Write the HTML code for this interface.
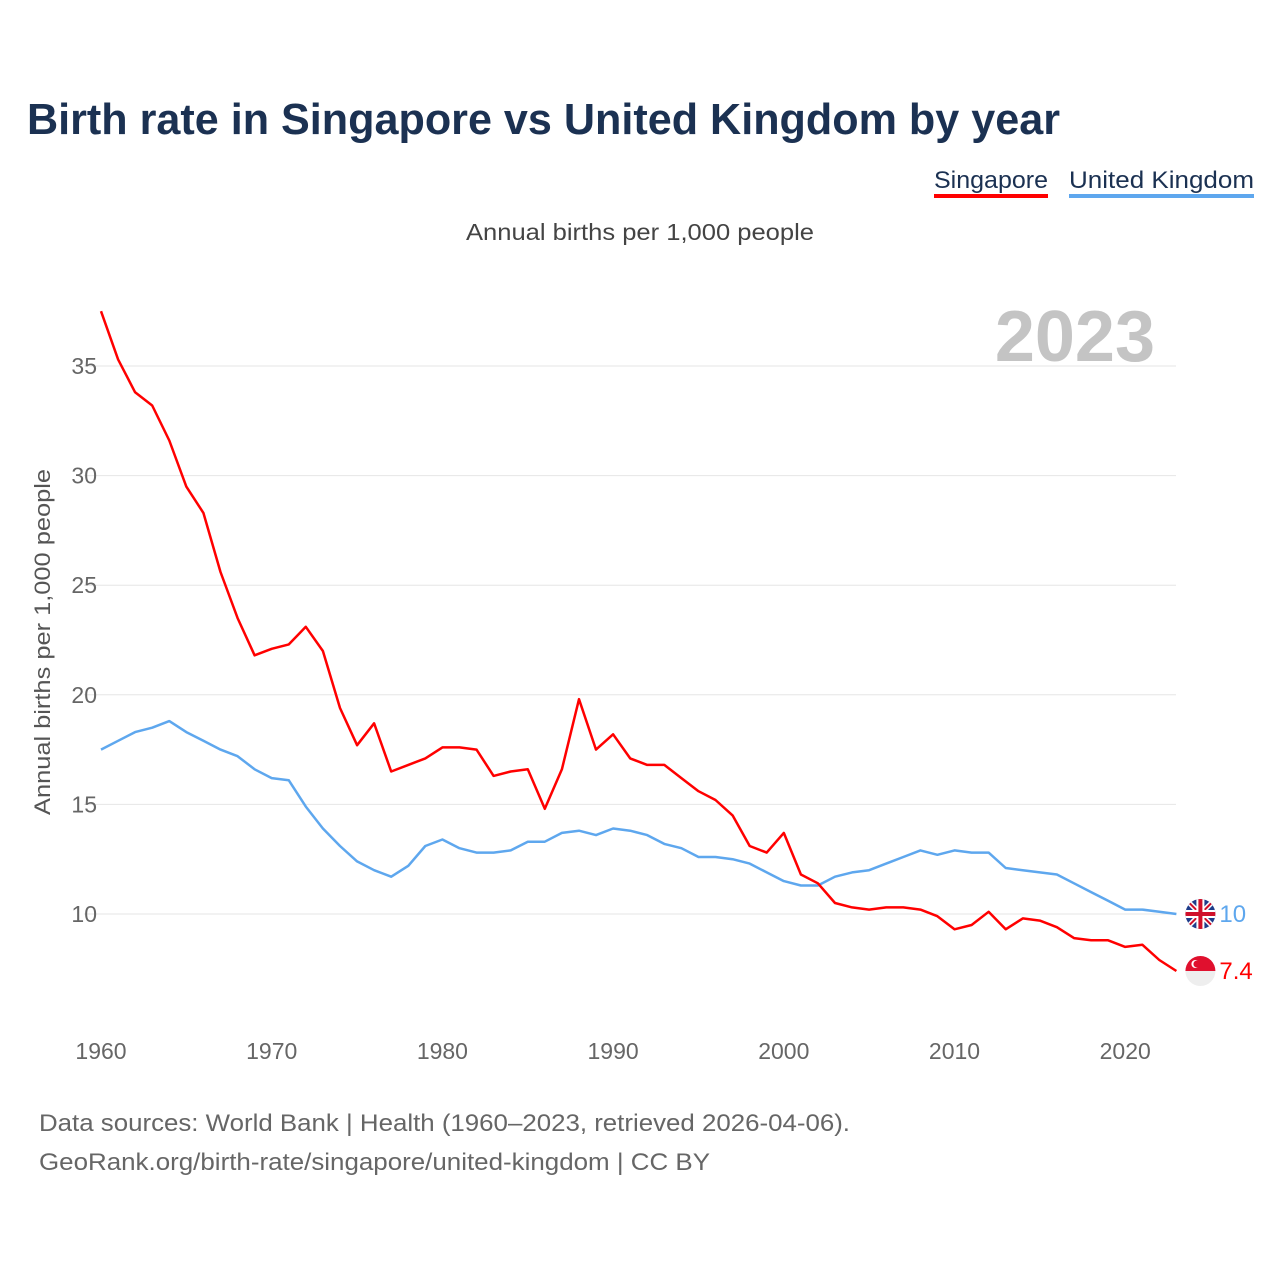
<!DOCTYPE html>
<html><head><meta charset="utf-8">
<style>
body{margin:0;background:#fff;font-family:"Liberation Sans",sans-serif;}
#wrap{position:relative;width:1280px;height:1280px;overflow:hidden;}
</style></head>
<body>
<div id="wrap">
<svg id="chart" width="1280" height="1280" viewBox="0 0 1280 1280">
<text x="27" y="134" font-size="44" font-weight="bold" fill="#1b3152" textLength="1033" lengthAdjust="spacingAndGlyphs">Birth rate in Singapore vs United Kingdom by year</text>
<g>
<text x="934" y="188" font-size="24" fill="#1b3152" textLength="114" lengthAdjust="spacingAndGlyphs">Singapore</text>
<rect x="934" y="194" width="114" height="4" fill="#ff0000"/>
</g>
<g>
<text x="1069" y="188" font-size="24" fill="#1b3152" textLength="185" lengthAdjust="spacingAndGlyphs">United Kingdom</text>
<rect x="1069" y="194" width="185" height="4" fill="#5ea7ee"/>
</g>
<text x="466" y="240" font-size="23" fill="#444" textLength="348" lengthAdjust="spacingAndGlyphs">Annual births per 1,000 people</text>
<text x="1155" y="361" font-size="72" font-weight="bold" fill="#c4c4c4" text-anchor="end">2023</text>
<text transform="translate(50,815) rotate(-90)" font-size="22" fill="#555" textLength="346" lengthAdjust="spacingAndGlyphs">Annual births per 1,000 people</text>
<g id="grid"></g><g id="yticks"></g><g id="xticks"></g><g id="lines"></g><g id="ends"></g>
<text x="39" y="1131" font-size="24" fill="#666" textLength="811" lengthAdjust="spacingAndGlyphs">Data sources: World Bank | Health (1960–2023, retrieved 2026-04-06).</text>
<text x="39" y="1170" font-size="24" fill="#666" textLength="671" lengthAdjust="spacingAndGlyphs">GeoRank.org/birth-rate/singapore/united-kingdom | CC BY</text>
</svg>
</div>
<script>
const years = [];
for (let y = 1960; y <= 2023; y++) years.push(y);
const singapore = [37.5,35.3,33.8,33.2,31.6,29.5,28.3,25.6,23.5,21.8,22.1,22.3,23.1,22.0,19.4,17.7,18.7,16.5,16.8,17.1,17.6,17.6,17.5,16.3,16.5,16.6,14.8,16.6,19.8,17.5,18.2,17.1,16.8,16.8,16.2,15.6,15.2,14.5,13.1,12.8,13.7,11.8,11.4,10.5,10.3,10.2,10.3,10.3,10.2,9.9,9.3,9.5,10.1,9.3,9.8,9.7,9.4,8.9,8.8,8.8,8.5,8.6,7.9,7.4];
const uk = [17.5,17.9,18.3,18.5,18.8,18.3,17.9,17.5,17.2,16.6,16.2,16.1,14.9,13.9,13.1,12.4,12.0,11.7,12.2,13.1,13.4,13.0,12.8,12.8,12.9,13.3,13.3,13.7,13.8,13.6,13.9,13.8,13.6,13.2,13.0,12.6,12.6,12.5,12.3,11.9,11.5,11.3,11.3,11.7,11.9,12.0,12.3,12.6,12.9,12.7,12.9,12.8,12.8,12.1,12.0,11.9,11.8,11.4,11.0,10.6,10.2,10.2,10.1,10.0];
const yTicks = [10,15,20,25,30,35];
const xTicks = [1960,1970,1980,1990,2000,2010,2020];
const NS = "http://www.w3.org/2000/svg";
const x = v => 101 + (v - 1960) * 17.07;
const y = v => 914 - (v - 10) * 21.92;
function mk(tag, attrs, parent) {
  const e = document.createElementNS(NS, tag);
  for (const k in attrs) e.setAttribute(k, attrs[k]);
  document.getElementById(parent).appendChild(e);
  return e;
}
yTicks.forEach(t => {
  const l = mk("line", {x1: 84, x2: 1176, y1: y(t), y2: y(t), stroke: "#e6e6e6", "stroke-width": 1}, "grid");
  
  
  const tx = mk("text", {x: 97, y: y(t) + 8, "font-size": 23, fill: "#666", "text-anchor": "end"}, "yticks");
  tx.textContent = t;
  
  
});
xTicks.forEach(t => {
  const tx = mk("text", {x: x(t), y: 1059, "font-size": 23, fill: "#666", "text-anchor": "middle"}, "xticks");
  tx.textContent = t;
  
  
});
function line(data, color, name) {
  const d = data.map((v, i) => (i ? "L" : "M") + x(years[i]).toFixed(1) + "," + y(v).toFixed(1)).join("");
  const p = mk("path", {d: d, fill: "none", stroke: color, "stroke-width": 2.5, "stroke-linejoin": "round"}, "lines");
  
  
}
line(uk, "#5ea7ee", "uk-line");
line(singapore, "#ff0000", "singapore-line");
function endLabel(data, color, name, flag) {
  const v = data[data.length - 1];
  const cx = x(2023) + 24, cy = y(v);
  const g = mk("g", {}, "ends");
  
  
  g.innerHTML = flag(cx, cy);
  const t = document.createElementNS(NS, "text");
  t.setAttribute("x", cx + 19); t.setAttribute("y", cy + 8);
  t.setAttribute("font-size", 24); t.setAttribute("fill", color);
  t.textContent = String(v);
  g.appendChild(t);
}
endLabel(uk, "#5ea7ee", "uk-end-label", (cx, cy) =>
  `<clipPath id="cu"><circle cx="${cx}" cy="${cy}" r="15"/></clipPath><g clip-path="url(#cu)"><rect x="${cx-16}" y="${cy-16}" width="32" height="32" fill="#1f3d8a"/><path d="M${cx-16},${cy-16}L${cx+16},${cy+16}M${cx+16},${cy-16}L${cx-16},${cy+16}" stroke="#fff" stroke-width="5"/><path d="M${cx-16},${cy-16}L${cx+16},${cy+16}M${cx+16},${cy-16}L${cx-16},${cy+16}" stroke="#d0102a" stroke-width="2"/><path d="M${cx},${cy-16}V${cy+16}M${cx-16},${cy}H${cx+16}" stroke="#fff" stroke-width="8"/><path d="M${cx},${cy-16}V${cy+16}M${cx-16},${cy}H${cx+16}" stroke="#d0102a" stroke-width="4"/></g>`);
endLabel(singapore, "#ff0000", "singapore-end-label", (cx, cy) =>
  `<clipPath id="cs"><circle cx="${cx}" cy="${cy}" r="15"/></clipPath><g clip-path="url(#cs)"><rect x="${cx-16}" y="${cy-16}" width="32" height="16" fill="#e0102e"/><rect x="${cx-16}" y="${cy}" width="32" height="16" fill="#eee"/><circle cx="${cx-5}" cy="${cy-7}" r="4" fill="#fff"/><circle cx="${cx-3.5}" cy="${cy-7}" r="3.5" fill="#e0102e"/></g>`);
</script>
</body></html>
